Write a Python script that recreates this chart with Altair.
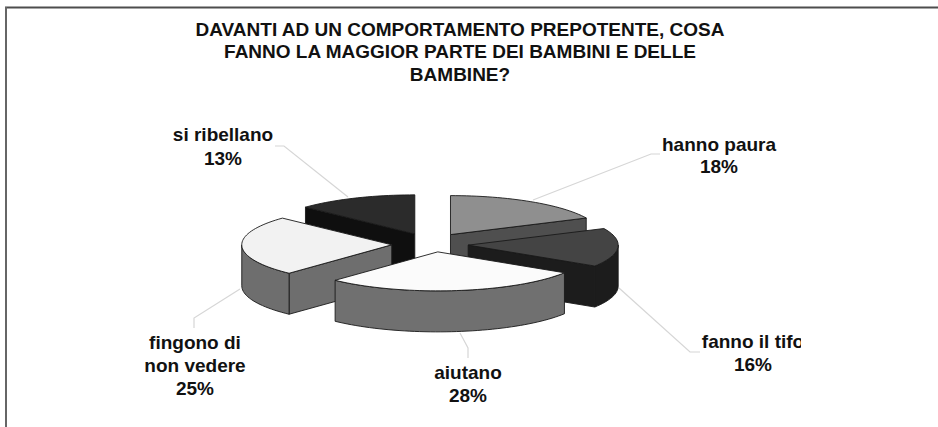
import math
import altair as alt
import pandas as pd

# Survey answers, clockwise from twelve o'clock
categories = ["hanno paura", "fanno il tifo", "aiutano", "fingono di\nnon vedere", "si ribellano"]
shares = [18, 16, 28, 25, 13]
title_lines = [
    "DAVANTI AD UN COMPORTAMENTO PREPOTENTE, COSA",
    "FANNO LA MAGGIOR PARTE DEI BAMBINI E DELLE",
    "BAMBINE?",
]

# Shades per slice: top face, radial wall, rim wall
top_fill = ["#8f8f8f", "#444444", "#fbfbfb", "#f2f2f2", "#2b2b2b"]
wall_fill = ["#4f4f4f", "#1c1c1c", "#707070", "#6e6e6e", "#0f0f0f"]
rim_fill = ["#4f4f4f", "#1c1c1c", "#707070", "#6e6e6e", "#0f0f0f"]
draw_order = [4, 0, 1, 3, 2]

# Tilted pie geometry in pixels
WIDTH, HEIGHT = 938, 427
CENTER = (430, 243)
RX, RY = 150, 39
EXPLODE = 0.255
DEPTH = 41
# Small extra pull on individual slices
slice_nudge = {1: (0, 1.5), 2: (3, -1), 3: (0, 1.5)}

# Label anchors: centre x and the baseline of each line
label_layout = {
    0: (719, [151, 173]),
    1: (753, [348, 371]),
    2: (468, [379, 402]),
    3: (195, [349, 372, 395]),
    4: (223, [141, 165]),
}
title_x = 460
title_baselines = [36, 58, 81]
# Leader lines from each label to its slice
leader_paths = {
    0: [(660, 154), (651, 154), (533, 200)],
    1: [(700, 352), (690, 352), (619, 288)],
    2: [(468, 358), (468, 348), (460, 333)],
    3: [(194, 328), (194, 318), (240, 289)],
    4: [(275, 146), (284, 146), (348, 197)],
}


def rim_point(deg, ox, oy, drop=0.0):
    a = math.radians(deg)
    return [ox + RX * math.sin(a), oy - RY * math.cos(a) + drop]


def arc(a0, a1, ox, oy, drop=0.0):
    steps = max(2, int(abs(a1 - a0) / 2))
    return [rim_point(a0 + (a1 - a0) * i / steps, ox, oy, drop) for i in range(steps + 1)]


def face(ring, fill):
    closed = ring + [ring[0]]
    return {
        "type": "Feature",
        "properties": {"fill": fill},
        "geometry": {"type": "Polygon", "coordinates": [closed]},
    }


# Turn each share into an angular span, then extrude the slice downwards
spans = []
acc = 0
for v in shares:
    spans.append((acc * 3.6, (acc + v) * 3.6))
    acc += v

features = []
for i in draw_order:
    a0, a1 = spans[i]
    mid = math.radians((a0 + a1) / 2)
    nx, ny = slice_nudge.get(i, (0, 0))
    ox = RX * EXPLODE * math.sin(mid) + nx
    oy = -RY * EXPLODE * math.cos(mid) + ny
    apex = [ox, oy]
    apex_low = [ox, oy + DEPTH]
    # Radial walls that face the viewer
    if math.sin(math.radians(a1)) > 0.001:
        features.append(face([apex, rim_point(a1, ox, oy), rim_point(a1, ox, oy, DEPTH), apex_low], wall_fill[i]))
    if math.sin(math.radians(a0)) < -0.001:
        features.append(face([apex, rim_point(a0, ox, oy), rim_point(a0, ox, oy, DEPTH), apex_low], wall_fill[i]))
    # Curved wall along the front half of the ellipse
    lo, hi = max(a0, 90), min(a1, 270)
    if hi > lo:
        features.append(face(arc(lo, hi, ox, oy) + arc(hi, lo, ox, oy, DEPTH), rim_fill[i]))
    features.append(face([apex] + arc(a0, a1, ox, oy), top_fill[i]))

pie = (
    alt.Chart(alt.Data(values=features))
    .mark_geoshape(stroke="#1a1a1a", strokeWidth=0.9, strokeJoin="round")
    .encode(fill=alt.Fill("properties.fill:N", scale=None, legend=None))
    .project(type="identity", scale=1, translate=list(CENTER))
)

x_scale = alt.Scale(domain=[0, WIDTH], range=[0, WIDTH])
y_scale = alt.Scale(domain=[0, HEIGHT], range=[0, HEIGHT])
X = alt.X("x:Q", scale=x_scale, axis=None)
Y = alt.Y("y:Q", scale=y_scale, axis=None)

leader_rows = [
    {"slice": k, "step": n, "x": p[0], "y": p[1]}
    for k, path in leader_paths.items()
    for n, p in enumerate(path)
]
leaders = (
    alt.Chart(pd.DataFrame(leader_rows))
    .mark_line(color="#d6d6d6", strokeWidth=1.2)
    .encode(x=X, y=Y, detail="slice:N", order="step:Q")
)

label_rows = []
for i, (name, share) in enumerate(zip(categories, shares)):
    cx, baselines = label_layout[i]
    for line, base in zip(name.split("\n") + [f"{share}%"], baselines):
        label_rows.append({"text": line, "x": cx, "y": base})
labels = (
    alt.Chart(pd.DataFrame(label_rows))
    .mark_text(font="Liberation Sans", fontWeight="bold", fontSize=19, color="#111111",
               align="center", baseline="alphabetic")
    .encode(x=X, y=Y, text="text:N")
)

title_rows = [{"text": t, "x": title_x, "y": b} for t, b in zip(title_lines, title_baselines)]
title = (
    alt.Chart(pd.DataFrame(title_rows))
    .mark_text(font="Liberation Sans", fontWeight="bold", fontSize=19, color="#111111",
               align="center", baseline="alphabetic")
    .encode(x=X, y=Y, text="text:N")
)

# The last label runs into the edge of its text box
mask = (
    alt.Chart(pd.DataFrame([{"x": 801, "x2": 815, "y": 330, "y2": 356}]))
    .mark_rect(color="white")
    .encode(x=X, x2="x2:Q", y=Y, y2="y2:Q")
)

# Frame along the top and left edges
frame_top = (
    alt.Chart(pd.DataFrame([{"x": 5, "x2": WIDTH, "y": 7.5}]))
    .mark_rule(color="#4d4d4d", strokeWidth=2)
    .encode(x=X, x2="x2:Q", y=Y)
)
frame_left = (
    alt.Chart(pd.DataFrame([{"x": 6, "y": 7, "y2": HEIGHT}]))
    .mark_rule(color="#666666", strokeWidth=2)
    .encode(x=X, y=Y, y2="y2:Q")
)

chart = (
    alt.layer(leaders, pie, labels, title, mask, frame_top, frame_left)
    .properties(width=WIDTH, height=HEIGHT, background="white", padding=0, autosize=alt.AutoSizeParams(type="none"))
    .configure_view(stroke=None)
)

chart.save("out.html", embed_options={"renderer": "svg", "actions": False})
